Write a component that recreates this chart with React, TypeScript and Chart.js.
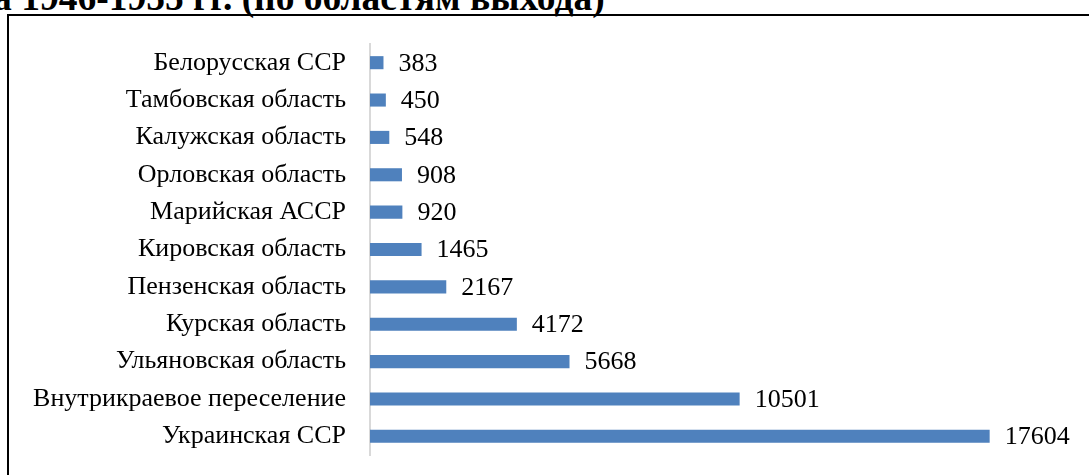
import React, { useEffect, useRef } from "react";
import { Chart, registerables } from "chart.js";

Chart.register(...registerables);

const categories = [
  "Белорусская ССР",
  "Тамбовская область",
  "Калужская область",
  "Орловская область",
  "Марийская АССР",
  "Кировская область",
  "Пензенская область",
  "Курская область",
  "Ульяновская область",
  "Внутрикраевое переселение",
  "Украинская ССР",
];
const values = [383, 450, 548, 908, 920, 1465, 2167, 4172, 5668, 10501, 17604];
const titleText = "за 1946-1955 гг. (по областям выхода)";

const FONT = "'Liberation Serif', 'Times New Roman', serif";

const dataLabels = {
  id: "dataLabels",
  afterDatasetsDraw(chart: any) {
    const ctx = chart.ctx;
    const meta = chart.getDatasetMeta(0);
    ctx.save();
    ctx.font = `26px ${FONT}`;
    ctx.fillStyle = "#000";
    ctx.textAlign = "left";
    ctx.textBaseline = "middle";
    meta.data.forEach((bar: any, i: number) => {
      ctx.fillText(String(values[i]), bar.x + 15, bar.y + 1);
    });
    ctx.restore();
  },
};

export default function App() {
  const ref = useRef<HTMLCanvasElement | null>(null);
  useEffect(() => {
    if (!ref.current) return;
    const chart = new Chart(ref.current, {
      type: "bar",
      data: {
        labels: categories,
        datasets: [
          {
            data: values,
            backgroundColor: "#4f81bd",
            borderWidth: 0,
            barPercentage: 0.35,
            categoryPercentage: 1,
          },
        ],
      },
      options: {
        indexAxis: "y",
        animation: false,
        responsive: false,
        maintainAspectRatio: false,
        layout: { padding: { top: 44, bottom: 20, left: 0, right: 15 } },
        plugins: { legend: { display: false }, tooltip: { enabled: false } },
        scales: {
          x: {
            display: false,
            min: 0,
            max: 20000,
            ticks: { display: false },
            grid: { display: false, drawTicks: false },
          },
          y: {
            grid: { display: false, drawTicks: false },
            border: { display: true, color: "#d9d9d9", width: 2 },
            ticks: {
              padding: 24,
              color: "#000",
              autoSkip: false,
              font: { family: FONT, size: 26 },
            },
            afterFit: (s: any) => {
              s.width = 370;
              s.paddingTop = 0;
              s.paddingBottom = 0;
            },
          },
        },
      },
      plugins: [dataLabels],
    });
    return () => chart.destroy();
  }, []);

  return (
    <div
      style={{
        position: "absolute",
        left: 0,
        top: 0,
        width: 1089,
        height: 475,
        overflow: "hidden",
        background: "#fff",
      }}
    >
      <div
        style={{
          position: "absolute",
          left: -22,
          top: -21,
          fontFamily: FONT,
          fontWeight: "bold",
          fontSize: 37.5,
          lineHeight: "37.5px",
          whiteSpace: "nowrap",
          color: "#000",
        }}
      >
        {titleText}
      </div>
      <div
        style={{
          position: "absolute",
          left: 7,
          top: 14,
          width: 1200,
          height: 600,
          border: "2px solid #000",
        }}
      />
      <canvas
        ref={ref}
        width={1089}
        height={475}
        style={{ position: "absolute", left: 0, top: 0, width: 1089, height: 475 }}
      />
    </div>
  );
}
